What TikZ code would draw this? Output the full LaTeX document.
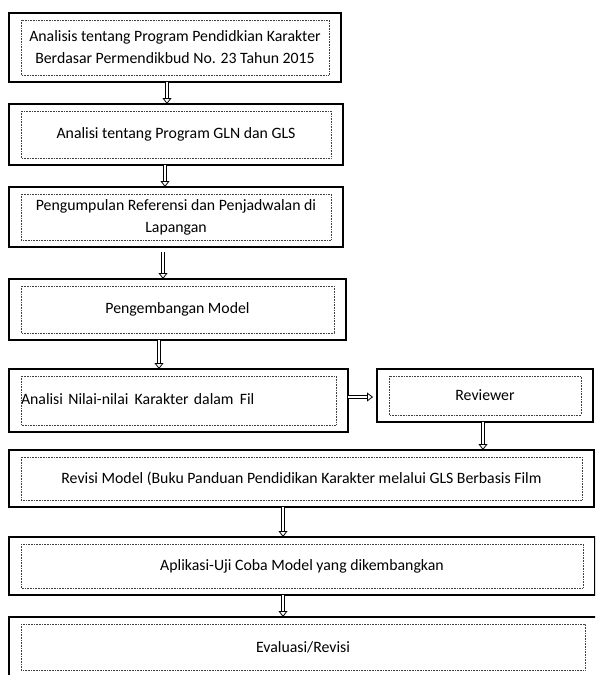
\documentclass[tikz,border=0pt]{standalone}
\usepackage{fontspec}
\setmainfont{Carlito}
\usepackage{tikz}
\usetikzlibrary{arrows.meta,positioning,calc}
\tikzset{
    stage/.style={draw, rectangle, line width=1.2pt, anchor=north west, align=center, inner sep=0pt, outer sep=0pt},
    dotbox/.style={densely dotted, line width=0.6pt, black!75},
    flow/.style={double, double distance=2pt, line width=0.8pt, -{Triangle[open, length=6pt, width=9pt]}}
}

\begin{document}
\begin{tikzpicture}[x=1pt, y=-1pt, font=\fontsize{15.8pt}{22pt}\selectfont]
                \path[use as bounding box, clip] (0,0) rectangle (595,675);
                \node[stage, minimum width=332pt, minimum height=69pt] (b1) at (9,13) {Analisis tentang Program Pendidkian Karakter\\Berdasar Permendikbud No. 23 Tahun 2015};
                \node[stage, minimum width=334pt, minimum height=61pt] (b2) at (9,104) {Analisi tentang Program GLN dan GLS};
                \node[stage, minimum width=334pt, minimum height=60pt] (b3) at (9,187) {Pengumpulan Referensi dan Penjadwalan di\\Lapangan};
                \node[stage, minimum width=337pt, minimum height=61pt] (b4) at (9,279) {Pengembangan Model};
                \node[stage, minimum width=339pt, minimum height=63pt, align=left, inner xsep=12pt, text width=315pt] (b5) at (9,369) {\raisebox{3pt}{Analisi Nilai-nilai~\hspace{1pt}Karakter dalam~\hspace{1pt}Fil}};
                \node[stage, minimum width=216pt, minimum height=53pt] (rev) at (377,369) {Reviewer};
                \node[stage, minimum width=585pt, minimum height=57pt] (b6) at (9,450) {Revisi Model (Buku Panduan Pendidikan Karakter melalui GLS Berbasis Film};
                \node[stage, minimum width=586pt, minimum height=58pt] (b7) at (9,537) {Aplikasi-Uji Coba Model yang dikembangkan};
                \node[stage, minimum width=588pt, minimum height=60pt] (b8) at (9,617) {Evaluasi/Revisi};
                
                % dotted inner frames
                \foreach \n in {b1,b2,b3,b4,b5,rev,b6,b7,b8}
                    \draw[dotbox] ([shift={(12pt,-7pt)}]\n.north west) rectangle ([shift={(-12pt,7pt)}]\n.south east);
                
                \draw[flow] ([xshift=-8pt]b1.south) -- ([xshift=-8pt]b1.south |- b2.north);
                \draw[flow] ([xshift=-11pt]b2.south) -- ([xshift=-11pt]b2.south |- b3.north);
                \draw[flow, shorten <=5pt] ([xshift=-13pt]b3.south) -- ([xshift=-13pt]b3.south |- b4.north);
                \draw[flow] ([xshift=-18.5pt]b4.south) -- ([xshift=-18.5pt]b4.south |- b5.north);
                \draw[flow, shorten >=4pt] ([yshift=3.5pt]b5.east) -- ([yshift=3.5pt]b5.east -| rev.west);
                \draw[flow] ([xshift=-2pt]rev.south) -- ([xshift=-2pt]rev.south |- b6.north);
                \draw[flow] ([xshift=-18.5pt]b6.south) -- ([xshift=-18.5pt]b6.south |- b7.north);
                \draw[flow] ([xshift=-19pt]b7.south) -- ([xshift=-19pt]b7.south |- b8.north);
            \end{tikzpicture}
\end{document}
